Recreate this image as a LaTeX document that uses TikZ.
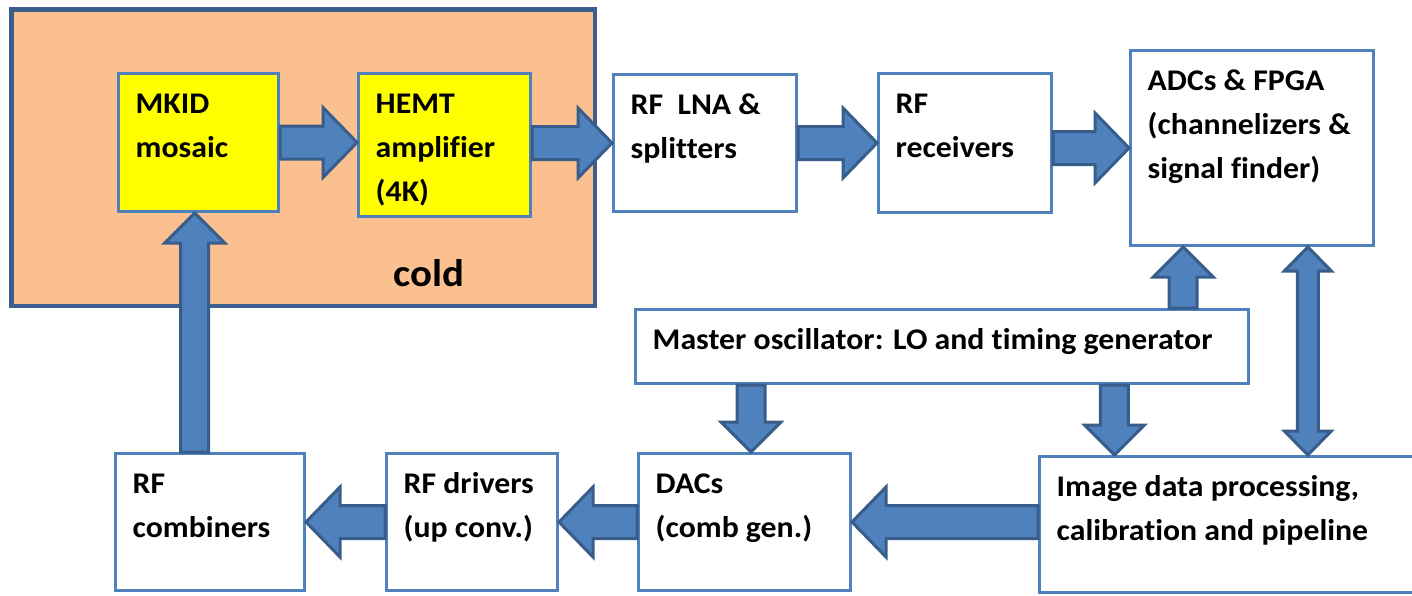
\documentclass[tikz,border=0pt]{standalone}
\usepackage{fontspec}
\setmainfont{Carlito}[FakeStretch=1.06, Ligatures=NoCommon]
\usetikzlibrary{calc}

\definecolor{kalt}{HTML}{FAC090}
\definecolor{kaltrand}{HTML}{3B5E8C}
\definecolor{rahmen}{HTML}{4F81BD}
\definecolor{pfeilblau}{HTML}{4F81BD}
\definecolor{pfeilrand}{HTML}{385D8A}
\definecolor{gelb}{HTML}{FFFF00}

\begin{document}
\begin{tikzpicture}[x=1pt,y=-1pt,
    kasten/.style={draw=rahmen, line width=3pt, fill=white, inner sep=0pt},
    beschr/.style={anchor=base west, align=left, inner sep=0pt,
        font=\bfseries\fontsize{30}{44}\selectfont},
    pfeil/.style={fill=pfeilblau, draw=pfeilrand, line width=3pt, line join=miter}]

    % Bildgröße
    \useasboundingbox (0,0) rectangle (1412,595);
    \clip (0,0) rectangle (1412,595);

    % Blockpfeil: Start, Ziel, halbe Schaftbreite, halbe Spitzenbreite, Spitzenlänge
    \def\blockpfeil#1#2#3#4#5{
        \coordinate (sp) at ($(#2)!#5pt!(#1)$);
        \filldraw[pfeil] ($(#1)!#3pt!90:(#2)$) -- ($(sp)!#3pt!90:(#2)$)
            -- ($(sp)!#4pt!90:(#2)$) -- (#2) -- ($(sp)!#4pt!-90:(#2)$)
            -- ($(sp)!#3pt!-90:(#2)$) -- ($(#1)!#3pt!-90:(#2)$) -- cycle;
    }
    % Doppelpfeil: wie oben, Spitze an beiden Enden
    \def\doppelpfeil#1#2#3#4#5{
        \coordinate (sa) at ($(#1)!#5pt!(#2)$);
        \coordinate (sb) at ($(#2)!#5pt!(#1)$);
        \filldraw[pfeil] (#1) -- ($(sa)!#4pt!90:(#2)$) -- ($(sa)!#3pt!90:(#2)$)
            -- ($(sb)!#3pt!90:(#2)$) -- ($(sb)!#4pt!90:(#2)$) -- (#2)
            -- ($(sb)!#4pt!-90:(#2)$) -- ($(sb)!#3pt!-90:(#2)$)
            -- ($(sa)!#3pt!-90:(#2)$) -- ($(sa)!#4pt!-90:(#2)$) -- cycle;
    }

    % kalter Bereich
    \node[draw=kaltrand, fill=kalt, line width=4.5pt, inner sep=0pt,
        minimum width=583.5pt, minimum height=296.5pt] (cold) at (303,157.5) {};

    % Kästen
    \node[kasten, fill=gelb, minimum width=160pt, minimum height=138pt] (mkid) at (198.5,142.5) {};
    \node[kasten, fill=gelb, minimum width=172pt, minimum height=143pt] (hemt) at (444.5,145) {};
    \node[kasten, minimum width=183pt, minimum height=137pt] (lna) at (705,143) {};
    \node[kasten, minimum width=173pt, minimum height=139pt] (rcv) at (965,143) {};
    \node[kasten, minimum width=243pt, minimum height=195pt] (adc) at (1252,148) {};
    \node[kasten, minimum width=613pt, minimum height=74pt] (master) at (942,346.5) {};
    \node[kasten, minimum width=212pt, minimum height=137pt] (dacs) at (744.5,522) {};
    \node[kasten, minimum width=399pt, minimum height=136pt] (image) at (1239,524.5) {};
    \node[kasten, minimum width=171pt, minimum height=137pt] (drivers) at (472,522) {};
    \node[kasten, minimum width=189pt, minimum height=137pt] (comb) at (210,522) {};

    % Beschriftungen (Grundlinie der letzten Zeile: 41.5 + 44 pro weitere Zeile)
    \foreach \n/\z/\t in {mkid/85.5/{MKID\\mosaic}, hemt/129.5/{HEMT\\amplifier\\(4K)},
            lna/85.5/{RF~~LNA \&\\splitters}, rcv/85.5/{RF\\receivers},
            adc/129.5/{ADCs \& FPGA\\(channelizers \&\\signal finder)},
            master/41.5/{Master oscillator: LO and timing generator},
            dacs/85.5/{DACs\\(comb gen.)}, image/85.5/{Image data processing,\\calibration and pipeline},
            drivers/85.5/{RF drivers\\(up conv.)}, comb/85.5/{RF\\combiners}} {
        \node[beschr] (\n-t) at ([shift={(18.5,\z)}]\n.north west) {\t};
    }
    \node[beschr, font=\bfseries\fontsize{38.5}{44}\selectfont] (cold-t) at (393,286) {cold};

    % Anschlusspunkte der senkrechten Pfeile
    \coordinate (c-auf) at ($(comb.north west)!0.42!(comb.north east)$);
    \coordinate (adc-ein) at ($(adc.south west)!0.22!(adc.south east)$);
    \coordinate (adc-aus) at ($(adc.south west)!0.727!(adc.south east)$);
    \coordinate (m-links) at ($(master.south west)!0.19!(master.south east)$);
    \coordinate (m-rechts) at ($(master.south west)!0.78!(master.south east)$);

    % waagrechte Pfeile
    \foreach \a/\b in {mkid.east/mkid.east -| hemt.west, lna.west -| hemt.east/lna.west,
            lna.east/lna.east -| rcv.west, adc.west -| rcv.east/adc.west,
            dacs.east -| image.west/dacs.east, dacs.west/dacs.west -| drivers.east,
            drivers.west/drivers.west -| comb.east} {
        \blockpfeil{\a}{\b}{16.5}{35}{34}
    }

    % senkrechte Pfeile
    \blockpfeil{c-auf}{c-auf |- mkid.south}{14}{30}{30}
    \blockpfeil{adc-ein |- master.north}{adc-ein}{14}{30}{30}
    \blockpfeil{m-links}{m-links |- dacs.north}{14}{30}{30}
    \blockpfeil{m-rechts}{m-rechts |- image.north}{14}{30}{30}
    \doppelpfeil{adc-aus}{adc-aus |- image.north}{10.5}{23.5}{24}
\end{tikzpicture}
\end{document}
